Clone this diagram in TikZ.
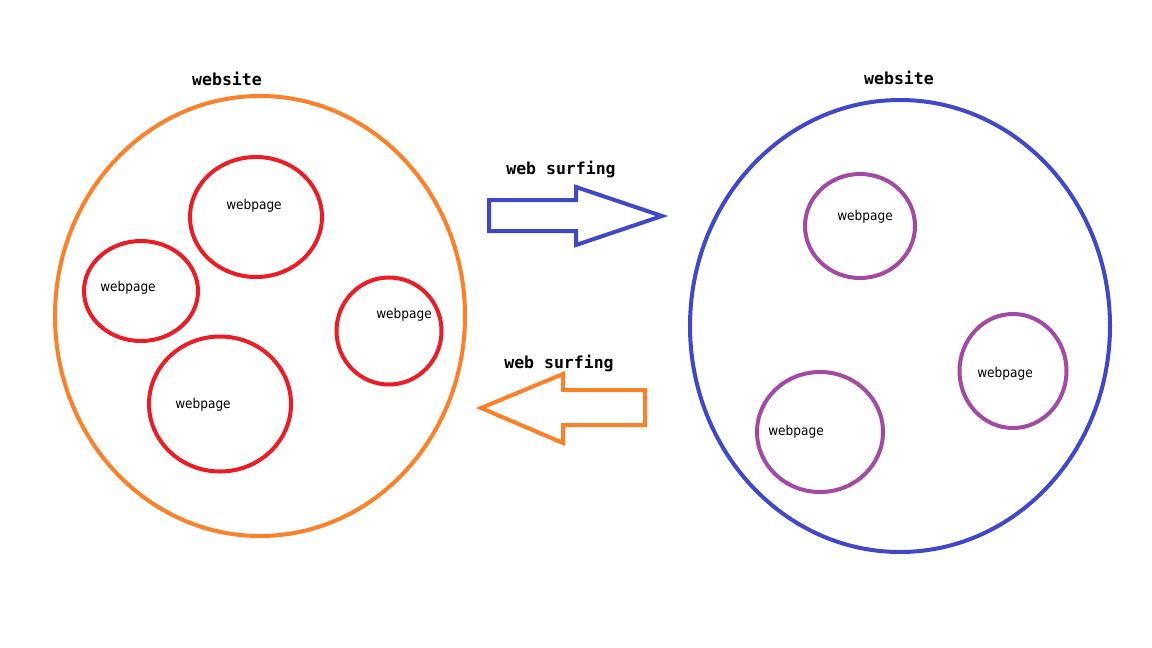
\documentclass[tikz,border=0pt]{standalone}
\usepackage{fontspec}
\usepackage{tikz}
\usetikzlibrary{shapes.geometric}
\newfontfamily\pagefont{DejaVu Sans Condensed}
\newfontfamily\sitefont{DejaVu Sans Mono}
\definecolor{paintorange}{RGB}{255,127,39}
\definecolor{paintred}{RGB}{237,28,36}
\definecolor{paintblue}{RGB}{63,72,204}
\definecolor{paintpurple}{RGB}{163,73,164}

\begin{document}
\begin{tikzpicture}[x=1pt,y=-1pt,
    site/.style={ellipse, draw, line width=4pt, inner sep=0pt},
    page/.style={ellipse, draw, line width=4pt, inner sep=0pt},
    pagetext/.style={font=\pagefont\fontsize{13.5}{14}\selectfont},
    sitetext/.style={font=\sitefont\bfseries\fontsize{16.5}{18}\selectfont}]
    \useasboundingbox (0,0) rectangle (1152,648);

    % Websites
    \node[site, draw=paintorange, minimum width=410pt, minimum height=440pt] (siteA) at (260,316) {};
    \node[site, draw=paintblue, minimum width=420pt, minimum height=452pt] (siteB) at (900,326) {};
    \node[sitetext] (siteAlabel) at (227,79) {website};
    \node[sitetext] (siteBlabel) at (899,78) {website};

    % Webpages, left
    \node[page, draw=paintred, minimum width=132pt, minimum height=120pt] (pageA1) at (256,217) {};
    \node[page, draw=paintred, minimum width=114pt, minimum height=100pt] (pageA2) at (141,291) {};
    \node[page, draw=paintred, minimum width=105pt, minimum height=107pt] (pageA3) at (389,331) {};
    \node[page, draw=paintred, minimum width=142pt, minimum height=135pt] (pageA4) at (220,404) {};
    \node[pagetext] (textA1) at (254,206) {webpage};
    \node[pagetext] (textA2) at (128,288) {webpage};
    \node[pagetext] (textA3) at (404,315) {webpage};
    \node[pagetext] (textA4) at (203,405) {webpage};

    % Webpages, right
    \node[page, draw=paintpurple, minimum width=110pt, minimum height=104pt] (pageB1) at (860,226) {};
    \node[page, draw=paintpurple, minimum width=107pt, minimum height=114pt] (pageB2) at (1013,371) {};
    \node[page, draw=paintpurple, minimum width=126pt, minimum height=120pt] (pageB3) at (820,432) {};
    \node[pagetext] (textB1) at (865,217) {webpage};
    \node[pagetext] (textB2) at (1005,374) {webpage};
    \node[pagetext] (textB3) at (796,432) {webpage};

    % Surfing arrows
    \node[sitetext] (surfright) at (561,169) {web surfing};
    \node[sitetext] (surfleft) at (559,363) {web surfing};
    \draw[paintblue, line width=4pt, line join=miter]
        (489,200) -- (576,200) -- (576,187) -- (662,216) -- (576,245) -- (576,231) -- (489,231) -- cycle;
    \draw[paintorange, line width=4pt, line join=miter]
        (645,390) -- (563,390) -- (563,374) -- (481,408) -- (563,443) -- (563,425) -- (645,425) -- cycle;
\end{tikzpicture}
\end{document}
